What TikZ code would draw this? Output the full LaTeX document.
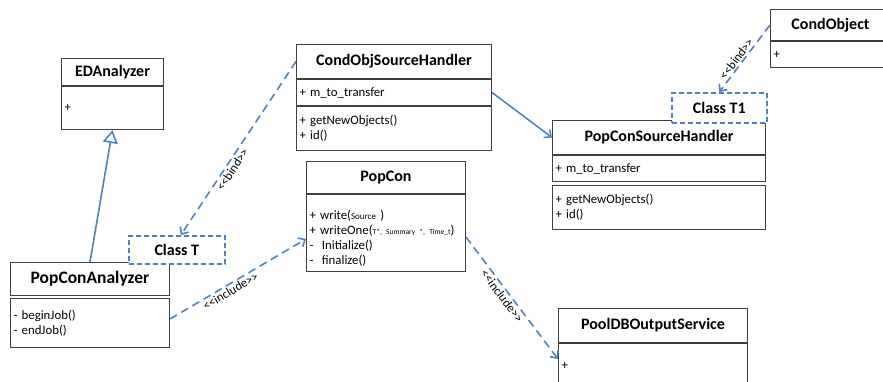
\documentclass[tikz,border=0pt]{standalone}
\usepackage{fontspec}
\setmainfont{Carlito}
\usetikzlibrary{arrows.meta,positioning}

\definecolor{umlblue}{RGB}{79,129,189}
\definecolor{boxgray}{RGB}{64,64,64}

\newcommand{\smallarg}[1]{{\fontsize{9}{11}\selectfont #1}}
\newcommand{\tinyarg}[1]{{\fontsize{7.5}{9}\selectfont #1}}
\newcommand{\stopen}{<\kern0pt<}
\newcommand{\stclose}{>\kern0pt>}

\tikzset{
  >={Straight Barb[length=5.5pt,width=10pt]},
  classhead/.style={draw=boxgray, line width=1pt, fill=white, inner sep=0pt,
    font=\bfseries\fontsize{16}{18}\selectfont},
  classpart/.style={draw=boxgray, line width=1pt, fill=white, align=left,
    inner xsep=3pt, inner ysep=0pt, font=\fontsize{12.8}{14.8}\selectfont},
  tparam/.style={draw=umlblue, line width=1.6pt, dash pattern=on 5pt off 3pt,
    fill=white, inner sep=0pt, font=\bfseries\fontsize{16}{18}\selectfont},
  dep/.style={umlblue, line width=1.6pt, dash pattern=on 8pt off 5pt, ->},
  assoc/.style={umlblue, line width=1.6pt, ->},
  gen/.style={umlblue, line width=1.6pt,
    -{Triangle[open, length=13pt, width=15pt, fill=white]}},
  stereo/.style={text=black, font=\fontsize{12.5}{14}\selectfont, sloped,
    inner sep=1.5pt}
}

\begin{document}
\begin{tikzpicture}[x=1pt,y=-1pt]

\useasboundingbox (0,0) rectangle (883,381);

% EDAnalyzer
\node[classhead, anchor=north west, minimum width=102pt, minimum height=27pt]
  (edhead) at (61,58) {EDAnalyzer};
\node[classpart, below right=0pt and 0pt of edhead.south west, text width=96pt,
  minimum height=43pt] (edbody) {+};

% PopConAnalyzer
\node[classhead, anchor=north west, minimum width=159pt, minimum height=33pt,
  font=\bfseries\fontsize{17.5}{19}\selectfont] (pcahead) at (10,262) {PopConAnalyzer};
\node[classpart, below right=2pt and 0pt of pcahead.south west, text width=153pt,
  minimum height=49pt] (pcamethods) {- beginJob()\\- endJob()};

% CondObjSourceHandler
\node[classhead, anchor=north west, minimum width=195pt, minimum height=34pt]
  (coshead) at (296,44) {CondObjSourceHandler};
\node[classpart, below right=0pt and 0pt of coshead.south west, text width=189pt,
  minimum height=26pt] (cosattr) {+ m\_to\_transfer};
\node[classpart, below right=0pt and 0pt of cosattr.south west, text width=189pt,
  minimum height=44pt] (cosmethods) {+ getNewObjects()\\+ id()};

% PopCon
\node[classhead, anchor=north west, minimum width=159pt, minimum height=32pt]
  (pchead) at (306,161) {PopCon};
\node[classpart, below right=0pt and 0pt of pchead.south west, text width=153pt,
  minimum height=77pt] (pcmethods)
  {\rule{0pt}{20pt}+ write(\smallarg{Source} )\\
   + writeOne(\tinyarg{T*, Summary *, Time\_t})\\
   -~~Initialize()\\
   -~~finalize()};

% PopConSourceHandler
\node[classhead, anchor=north west, minimum width=213pt, minimum height=34pt]
  (pshhead) at (552,120) {PopConSourceHandler};
\node[classpart, below right=0pt and 0pt of pshhead.south west, text width=207pt,
  minimum height=26pt] (pshattr) {+ m\_to\_transfer};
\node[classpart, below right=3pt and 0pt of pshattr.south west, text width=207pt,
  minimum height=44pt] (pshmethods) {+ getNewObjects()\\+ id()};

% CondObject
\node[classhead, anchor=north west, minimum width=120pt, minimum height=31pt]
  (cohead) at (770,9) {CondObject};
\node[classpart, below right=0pt and 0pt of cohead.south west, text width=114pt,
  minimum height=26pt] (cobody) {+};

% PoolDBOutputService
\node[classhead, anchor=north west, minimum width=189pt, minimum height=34pt]
  (pdbhead) at (558,308) {PoolDBOutputService};
\node[classpart, below right=0pt and 0pt of pdbhead.south west, text width=183pt,
  minimum height=45pt] (pdbbody) {+};

% template parameters
\node[tparam, anchor=north west, minimum width=96pt, minimum height=28pt]
  (classT) at (128,235) {Class T};
\node[tparam, anchor=north west, minimum width=95pt, minimum height=30pt]
  (classTone) at (671,92) {Class T1};

% connectors
\draw[gen] (pcahead.north) -- (edbody.south);
\draw[dep] (coshead.west) -- ([xshift=4pt]classT.north)
  node[stereo, below, pos=0.6] (bindT) {\stopen bind\stclose};
\draw[dep] ([yshift=4pt]pcamethods.east) -- ([yshift=-6pt]pcmethods.west)
  node[stereo, below, pos=0.42] (inclpc) {\stopen include\stclose};
\draw[dep] ([yshift=-4pt]pcmethods.east) -- ([yshift=7pt]pdbbody.west)
  node[stereo, below, pos=0.45] (incldb) {\stopen include\stclose};
\draw[assoc] (cosattr.east) -- (pshhead.west);
\draw[dep] (cohead.west) -- (classTone.north)
  node[stereo, above, pos=0.56] (bindTone) {\stopen bind\stclose};

\end{tikzpicture}
\end{document}
